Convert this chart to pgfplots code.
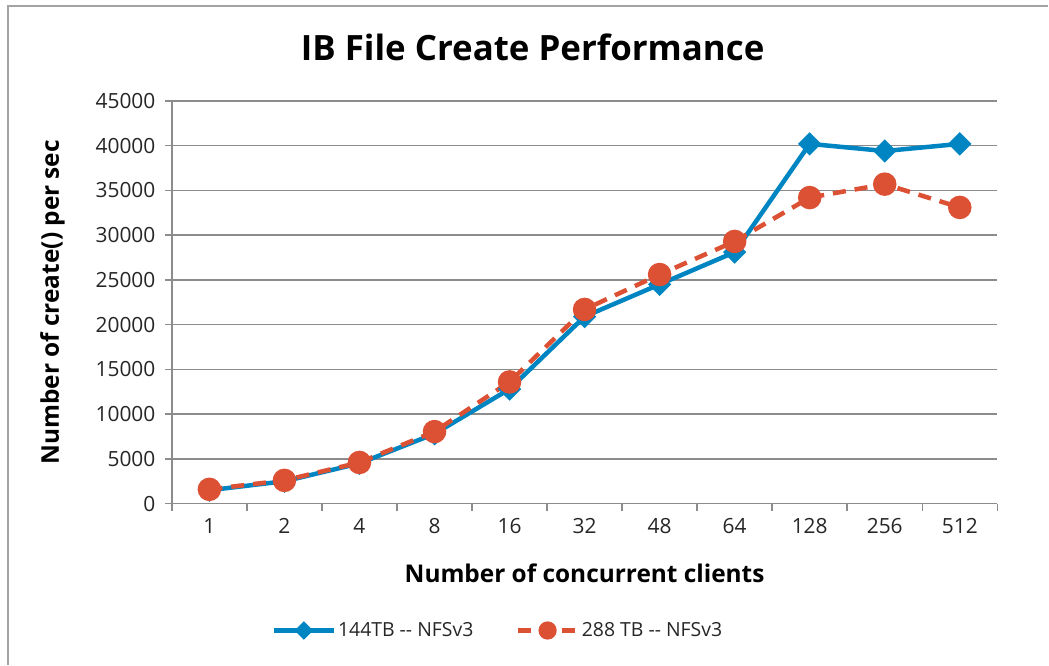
\documentclass[border=0pt]{standalone}
\usepackage{pgfplots}
\pgfplotsset{compat=1.18}
\usepackage{fontspec}
\setmainfont{Open Sans}
\definecolor{dblue}{HTML}{0085C3}
\definecolor{dred}{HTML}{DC5034}
\definecolor{gridgray}{HTML}{8C8C8C}
\begin{document}
\begin{tikzpicture}
\path (0bp,0bp) rectangle (1049bp,665bp);
\draw[gridgray!80, line width=1.5bp] (8bp,0bp) -- (8bp,659bp) -- (1049bp,659bp);
\node[font=\fontsize{35}{40}\selectfont\bfseries, anchor=base] at (533bp,604bp) {IB File Create Performance};
\begin{axis}[
  at={(172bp,161bp)}, anchor=south west,
  scale only axis, width=826bp, height=403bp,
  xmin=-0.5, xmax=10.5, ymin=0, ymax=45000,
  axis lines=left, axis line style={-, gridgray, line width=1.5bp},
  xtick={0,...,10},
  xticklabels={1,2,4,8,16,32,48,64,128,256,512},
  minor xtick={-0.5,0.5,...,10.5},
  major x tick style={draw=none},
  minor x tick style={gridgray, line width=1.5bp},
  minor tick length=7bp,
  ytick={0,5000,...,45000},
  y tick style={gridgray, line width=1.5bp},
  major tick length=7bp,
  tick align=outside,
  ymajorgrids, major grid style={gridgray, line width=1.5bp},
  scaled y ticks=false,
  /pgf/number format/assume math mode=true,
  /pgf/number format/set thousands separator={},
  ticklabel style={font=\fontsize{21}{24}\selectfont, text=black!85},
  xticklabel style={yshift=-4bp},
  yticklabel style={xshift=-6bp},
  xlabel={Number of concurrent clients},
  ylabel={Number of create() per sec},
  label style={font=\fontsize{24.5}{28}\selectfont\bfseries},
  xlabel style={yshift=-24bp},
  ylabel style={yshift=24bp},
  legend columns=2,
  legend style={draw=none, at={(0.395,-0.315)}, anchor=center,
    font=\fontsize{19.5}{24}\selectfont, text=black!85,
    /tikz/every even column/.append style={column sep=40bp}},
  legend image code/.code={
    \draw[#1, mark=none] (0bp,0bp) -- (60bp,0bp);
    \draw[#1, only marks, every mark/.append style={scale=0.72}] plot coordinates {(30bp,0bp)};
  },
]
\addplot[dblue, line width=4.5bp, mark=square*, mark size=6bp, mark options={rotate=45, solid}]
coordinates {(0,1500) (1,2500) (2,4500) (3,7800) (4,12800) (5,20900) (6,24500) (7,28100) (8,40200) (9,39400) (10,40200)};
\addlegendentry{144TB -{}- NFSv3}
\addplot[dred, line width=4.5bp, dash pattern=on 13bp off 9bp, mark=*, mark size=9.5bp, mark options={solid}]
coordinates {(0,1600) (1,2600) (2,4600) (3,8050) (4,13600) (5,21700) (6,25600) (7,29300) (8,34200) (9,35700) (10,33100)};
\addlegendentry{288 TB -{}- NFSv3}
\end{axis}
\end{tikzpicture}
\end{document}
